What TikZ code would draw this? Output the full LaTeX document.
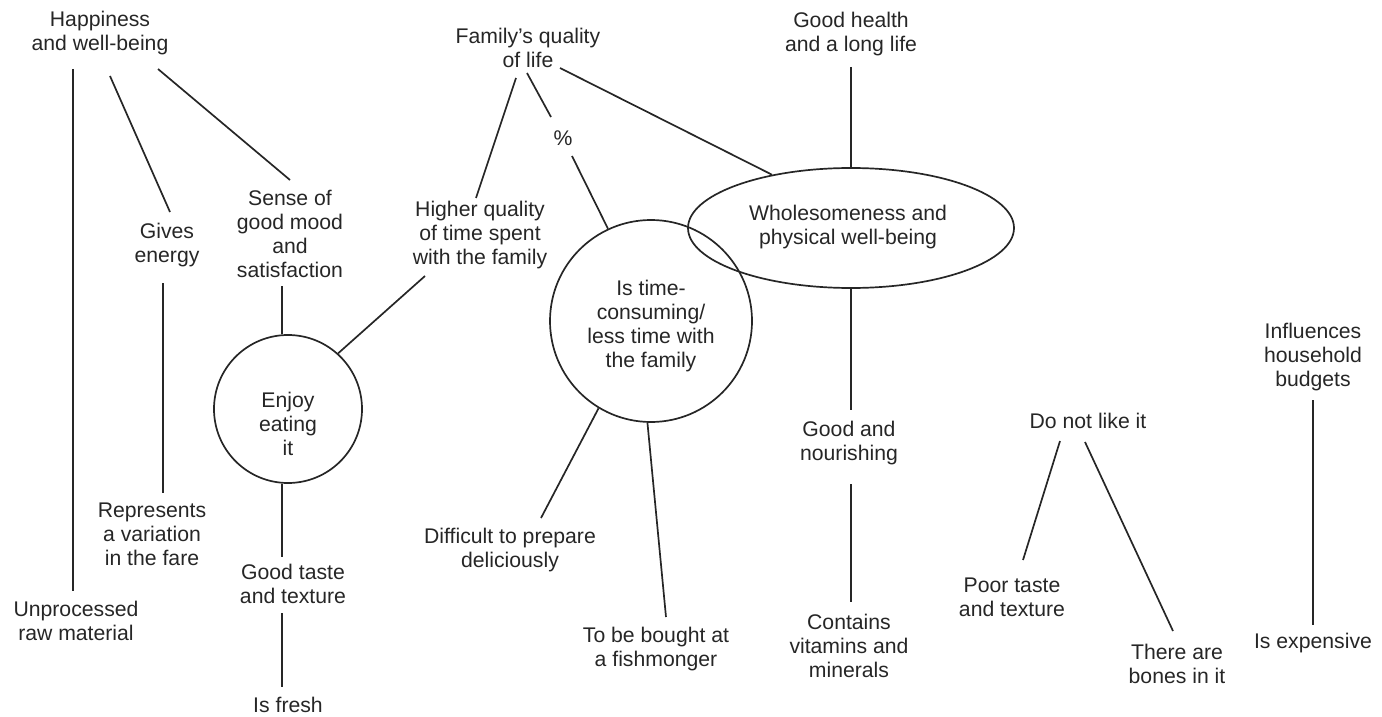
\documentclass[tikz,border=0pt]{standalone}
\usepackage{fontspec}
\setmainfont{Liberation Sans}
\usetikzlibrary{shapes.geometric,calc}
\begin{document}
\begin{tikzpicture}[x=0.5pt,y=-0.5pt,
  lbl/.style={align=center,inner sep=0pt,font=\fontsize{10.6pt}{12pt}\selectfont,text=black!85},
  link/.style={draw=black!85,line width=0.85pt},
  bubble/.style={circle,draw=black!85,line width=0.85pt,inner sep=0pt},
  oval/.style={ellipse,draw=black!85,line width=0.85pt,inner sep=0pt}]
\useasboundingbox (0,0) rectangle (1382,717);

% --- left branch: happiness
\node[lbl] (hap) at (100,33) {Happiness\\and well-being};
\node[lbl] (giv) at (167,245) {Gives\\energy};
\node[lbl] (sen) at (290,234) {Sense of\\good mood\\and\\satisfaction};
\node[lbl] (rep) at (152,534) {Represents\\a variation\\in the fare};
\node[lbl] (unp) at (76,621) {Unprocessed\\raw material};
\node[bubble,minimum size=74pt] (enj) at (288,409) {};
\node[lbl] (enjt) at (288,424) {Enjoy\\eating\\it};
\node[lbl] (goo) at (293,584) {Good taste\\and texture};
\node[lbl] (fre) at (288,705) {Is fresh};

% --- family branch
\node[lbl] (fam) at (528,48) {Family's quality\\of life};
\node[lbl] (hig) at (480,235) {Higher quality\\of time spent\\with the family};
\node[lbl] (pct) at (563,138) {\%};
\node[bubble,minimum size=101pt] (tim) at (651,321) {};
\node[lbl] (timt) at (651,326) {Is time-\\consuming/\\less time with\\the family};
\node[lbl] (dif) at (510,550) {Difficult to prepare\\deliciously};
\node[lbl] (buy) at (656,649) {To be bought at\\a fishmonger};

% --- health branch
\node[lbl] (hea) at (851,34) {Good health\\and a long life};
\node[oval,minimum width=163pt,minimum height=60pt] (who) at (851,228) {};
\node[lbl] (whot) at (848,227) {Wholesomeness and\\physical well-being};
\node[lbl] (nou) at (849,443) {Good and\\nourishing};
\node[lbl] (vit) at (849,646) {Contains\\vitamins and\\minerals};

% --- dislike and cost
\node[lbl] (dis) at (1088,421) {Do not like it};
\node[lbl] (poo) at (1012,597) {Poor taste\\and texture};
\node[lbl] (bon) at (1177,664) {There are\\bones in it};
\node[lbl] (inf) at (1313,357) {Influences\\household\\budgets};
\node[lbl] (exp) at (1313,643) {Is expensive};

% --- connectors
\draw[link] ($(hap)+(-27,36)$) -- ($(unp)+(-3,-30)$);
\draw[link] ($(hap)+(10,43)$) -- ($(giv)+(3,-33)$);
\draw[link] ($(hap)+(58,36)$) -- ($(sen)+(0,-54)$);
\draw[link] ($(giv)+(-4,38)$) -- ($(rep)+(11,-41)$);
\coordinate (s1) at ($(sen)+(-8,52)$);
\draw[link] (s1) -- (s1 |- enj.north);
\draw[link] (enj.south -| s1) -- ($(goo)+(-11,-27)$);
\draw[link] ($(goo)+(-11,29)$) -- ($(fre)+(-6,-18)$);
\draw[link] (enj.48) -- ($(hig)+(-55,41)$);

\draw[link] ($(fam)+(-12,30)$) -- ($(hig)+(-4,-37)$);
\draw[link] ($(fam)+(-1,25)$) -- ($(pct)+(-12,-21)$);
\draw[link] ($(pct)+(9,18)$) -- (tim.115);
\draw[link] ($(fam)+(32,20)$) -- (who.146);
\draw[link] (tim.239) -- ($(dif)+(31,-32)$);
\draw[link] (tim.268) -- ($(buy)+(10,-32)$);

\draw[link] ($(hea)+(0,33)$) -- (who.north);
\draw[link] (who.south) -- ($(nou)+(2,-33)$);
\draw[link] ($(nou)+(2,41)$) -- ($(vit)+(2,-44)$);

\draw[link] ($(dis)+(-28,20)$) -- ($(poo)+(11,-37)$);
\draw[link] ($(dis)+(-3,21)$) -- ($(bon)+(-4,-33)$);
\draw[link] ($(inf)+(0,43)$) -- ($(exp)+(0,-18)$);
\end{tikzpicture}
\end{document}
